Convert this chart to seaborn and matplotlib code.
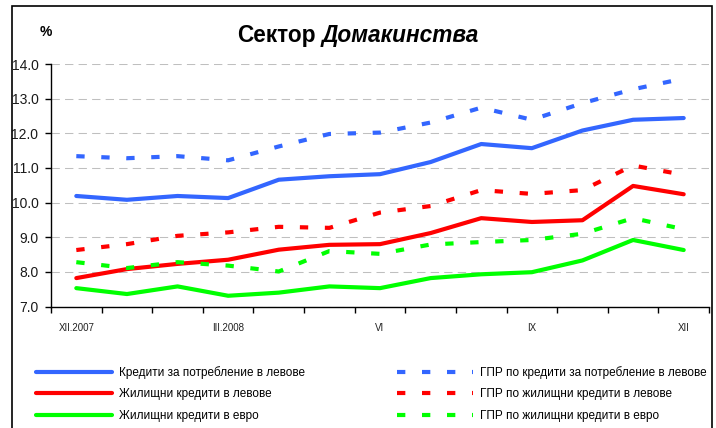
import matplotlib
matplotlib.use('Agg')
import matplotlib.pyplot as plt
import seaborn as sns
from matplotlib.patches import Rectangle

# Data (monthly, XII.2007 - XII.2008)
months = ['XII.2007', 'I', 'II', 'III.2008', 'IV', 'V', 'VI', 'VII', 'VIII', 'IX', 'X', 'XI', 'XII']
tick_labels = ['XII.2007', '', '', 'III.2008', '', '', 'VI', '', '', 'IX', '', '', 'XII']
yticks = [7, 8, 9, 10, 11, 12, 13, 14]

consumer_bgn = [10.19, 10.08, 10.19, 10.13, 10.66, 10.76, 10.82, 11.17, 11.69, 11.57, 12.08, 12.39, 12.44]
housing_bgn = [7.82, 8.08, 8.23, 8.35, 8.64, 8.78, 8.80, 9.12, 9.55, 9.44, 9.49, 10.48, 10.24]
housing_eur = [7.53, 7.36, 7.58, 7.31, 7.40, 7.58, 7.53, 7.82, 7.93, 7.99, 8.33, 8.92, 8.63]
apr_consumer_bgn = [11.34, 11.28, 11.34, 11.22, 11.62, 11.98, 12.02, 12.31, 12.74, 12.39, 12.87, 13.27, 13.58]
apr_housing_bgn = [8.63, 8.80, 9.04, 9.14, 9.30, 9.27, 9.71, 9.90, 10.36, 10.25, 10.36, 11.07, 10.80]
apr_housing_eur = [8.28, 8.11, 8.28, 8.18, 8.01, 8.60, 8.52, 8.79, 8.86, 8.92, 9.10, 9.55, 9.23]

series = [
    ('Кредити за потребление в левове', consumer_bgn, '#3366FF', False),
    ('Жилищни кредити в левове', housing_bgn, '#FF0000', False),
    ('Жилищни кредити в евро', housing_eur, '#00FF00', False),
    ('ГПР по кредити за потребление в левове', apr_consumer_bgn, '#3366FF', True),
    ('ГПР по жилищни кредити в левове', apr_housing_bgn, '#FF0000', True),
    ('ГПР по жилищни кредити в евро', apr_housing_eur, '#00FF00', True),
]

sns.set_theme(style='white', rc={'text.color': 'black'})
plt.rcParams['font.family'] = ['Liberation Sans', 'DejaVu Sans']

W, H = 716, 428
fig = plt.figure(figsize=(W / 100, H / 100), dpi=100)
ax = fig.add_axes([51 / W, 1 - 306.5 / H, (709 - 51) / W, (306.5 - 64) / H])

x = list(range(len(months)))
for label, vals, color, dashed in series:
    sns.lineplot(x=x, y=vals, ax=ax, color=color, lw=3,
                 linestyle=(0, (2, 4)) if dashed else '-',
                 label=label, legend=False, errorbar=None)

# axes styling
ax.set_xlim(-0.5, len(months) - 0.5)
ax.set_ylim(7, 14)
ax.set_yticks(yticks)
ax.set_yticklabels([f'{v:.1f}' for v in yticks])
ax.yaxis.grid(True, color='#BFBFBF', linestyle=(0, (8, 5)), lw=0.75)
ax.xaxis.grid(False)
ax.set_axisbelow(True)
for side in ['top', 'right']:
    ax.spines[side].set_visible(False)
for side in ['left', 'bottom']:
    ax.spines[side].set_color('black')
    ax.spines[side].set_linewidth(1)
ax.set_xlabel('')
ax.set_ylabel('')

ax.set_xticks([i - 0.5 for i in range(len(months) + 1)])
ax.set_xticklabels([])
ax.set_xticks(x, minor=True)
ax.set_xticklabels(tick_labels, minor=True)
ax.tick_params(axis='x', which='major', bottom=True, direction='out', length=4, width=1, color='black')
ax.tick_params(axis='x', which='minor', bottom=True, length=0, pad=12, labelsize=7, labelcolor='#222222')
ax.tick_params(axis='y', left=True, direction='out', length=4, width=1, color='black', pad=5,
               labelsize=10, labelcolor='#1a1a1a')

# title and unit
fig.text(316 / W, 1 - 42 / H, 'Сектор', ha='right', va='baseline', fontsize=16.3, weight='bold')
fig.text(322 / W, 1 - 42 / H, 'Домакинства', ha='left', va='baseline', fontsize=16.3,
         weight='bold', style='italic')
fig.text(46 / W, 1 - 32 / H, '%', ha='center', va='center', fontsize=10, weight='bold')

# legends (two columns)
handles, labels = ax.get_legend_handles_labels()
common = dict(loc='upper left', frameon=False, fontsize=8.5, handlelength=6.45,
              handletextpad=0.55, labelspacing=0.8, borderpad=0, borderaxespad=0)
leg1 = fig.legend(handles[:3], labels[:3], bbox_to_anchor=(36 / W, 1 - 366 / H), **common)
leg2 = fig.legend(handles[3:], labels[3:], bbox_to_anchor=(397 / W, 1 - 366 / H), **common)

# outer frame
fig.patches.append(Rectangle((11.5 / W, -0.05), (712 - 11.5) / W, 1.05 - 6.5 / H,
                             transform=fig.transFigure, fill=False, ec='black', lw=1.2))

fig.savefig('out.png', dpi=100)
